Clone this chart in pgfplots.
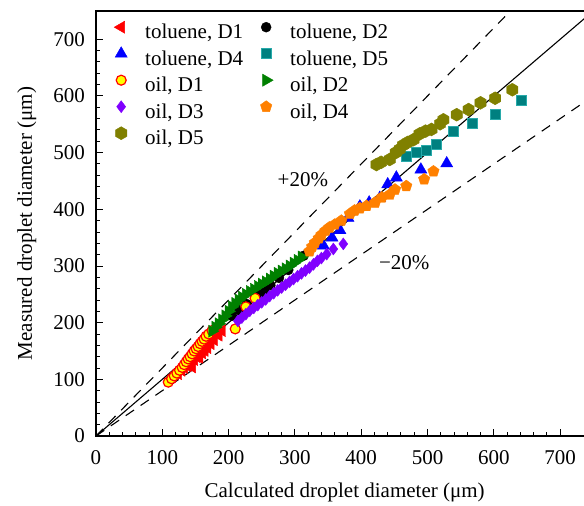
\documentclass[border=0pt]{standalone}
\usepackage{fontspec}
\setmainfont{Liberation Serif}
\usepackage{pgfplots}
\pgfplotsset{compat=1.18}

% filled six-sided mark
\pgfdeclareplotmark{hexagon*}{%
  \pgfpathmoveto{\pgfqpointpolar{90}{\pgfplotmarksize}}%
  \pgfpathlineto{\pgfqpointpolar{150}{\pgfplotmarksize}}%
  \pgfpathlineto{\pgfqpointpolar{210}{\pgfplotmarksize}}%
  \pgfpathlineto{\pgfqpointpolar{270}{\pgfplotmarksize}}%
  \pgfpathlineto{\pgfqpointpolar{330}{\pgfplotmarksize}}%
  \pgfpathlineto{\pgfqpointpolar{30}{\pgfplotmarksize}}%
  \pgfpathclose
  \pgfusepathqfillstroke}

\definecolor{cred}{RGB}{255,0,0}
\definecolor{cblue}{RGB}{0,0,255}
\definecolor{cteal}{RGB}{0,128,128}
\definecolor{ctealedge}{RGB}{40,170,170}
\definecolor{cyellow}{RGB}{255,255,0}
\definecolor{cgreen}{RGB}{0,128,0}
\definecolor{cviolet}{RGB}{128,0,255}
\definecolor{corange}{RGB}{255,128,0}
\definecolor{colive}{RGB}{128,128,0}

\begin{document}
\fontsize{21bp}{25bp}\selectfont
\begin{tikzpicture}
\begin{axis}[
  scale only axis,
  width=497.25bp, height=425bp,
  xmin=0, xmax=750, ymin=0, ymax=750,
  xtick={0,100,...,700}, ytick={0,100,...,700},
  minor tick num=4,
  tick align=inside, tick pos=left,
  major tick length=7bp, minor tick length=4bp,
  every tick/.style={black, line width=1bp},
  axis line style={line width=1.3bp},
  /pgf/number format/assume math mode=true,
  xticklabel style={yshift=-7bp},
  yticklabel style={xshift=-4bp},
  xlabel={Calculated droplet diameter (μm)},
  ylabel={Measured droplet diameter (μm)},
  every axis x label/.style={at={(axis description cs:0.5,-0.132)}, anchor=center},
  every axis y label/.style={at={(axis description cs:-0.139,0.5)}, anchor=center, rotate=90},
  legend columns=2,
  legend cell align=left,
  legend style={at={(axis description cs:0,1)}, anchor=north west,
    xshift=13bp, yshift=-9bp, draw=none, fill=none, inner sep=0pt,
    row sep=0pt, nodes={inner sep=3bp, text height=14bp, text depth=5bp}},
  /tikz/every even column/.append style={column sep=8bp},
  every axis plot/.append style={only marks,
    legend image code/.code={%
      \path[draw=none, fill=none, use as bounding box] (0bp,-5bp) rectangle (33bp,14bp);
      \draw[mark repeat=2, mark phase=2, ##1]
      plot coordinates {(0bp,7bp) (12bp,7bp) (33bp,7bp)};}},
]

% toluene
\addplot[mark=triangle*, mark size=7bp, color=cred, mark options={rotate=90}] coordinates {
 (124,110) (129,116) (133,121) (138,124) (142,130) (145,122) (148,135) (152,140)
 (156,139) (160,147) (164,151) (168,156) (173,163) (178,170) (185,178) (190,186)};
\addlegendentry{toluene, D1}

\addplot[mark=*, mark size=5bp, color=black] coordinates {
 (205,212) (216,222) (227,233) (240,246) (248,252) (254,258) (263,266) (276,279)
 (290,293) (313,318)};
\addlegendentry{toluene, D2}

\addplot[mark=triangle*, mark size=7bp, color=cblue] coordinates {
 (343,336) (356,350) (368,363) (380,385) (398,405) (412,412) (428,420) (440,444)
 (453,456) (490,470) (529,481)};
\addlegendentry{toluene, D4}

\addplot[mark=square*, mark size=5bp, draw=ctealedge, fill=cteal, mark options={line width=0.8bp}] coordinates {
 (468,494) (483,500) (498,504) (513,514) (539,538) (567,552) (602,567) (641,593)};
\addlegendentry{toluene, D5}

% oil
\addplot[mark=*, mark size=5bp, draw=cred, fill=cyellow, mark options={line width=1.2bp}] coordinates {
 (109,95) (114,101) (118,106) (122,111) (126,116) (130,121) (133,126) (136,131)
 (139,136) (142,140) (145,145) (148,150) (151,154) (154,158) (157,163) (160,167)
 (163,171) (166,176) (170,180) (175,186) (210,189) (226,228) (240,243)};
\addlegendentry{oil, D1}

\addplot[mark=triangle*, mark size=7bp, color=cgreen, mark options={rotate=-90}] coordinates {
 (175,185) (180,192) (185,198) (190,205) (195,212) (200,220) (205,228) (210,234)
 (215,240) (220,245) (226,250) (232,255) (238,259) (244,264) (250,268) (256,272)
 (262,277) (268,282) (274,287) (280,291) (286,295) (292,300) (298,305) (304,310)
 (310,316)};
\addlegendentry{oil, D2}

\addplot[mark=diamond*, mark size=6bp, color=cviolet] coordinates {
 (214,203) (220,209) (226,215) (232,221) (238,226) (244,231) (250,236) (256,241)
 (262,247) (268,252) (274,257) (280,262) (286,267) (292,272) (298,277) (304,282)
 (310,287) (316,292) (322,297) (328,303) (334,309) (340,314) (348,321) (358,330)
 (373,339)};
\addlegendentry{oil, D3}

\addplot[mark=pentagon*, mark size=6bp, color=corange] coordinates {
 (322,326) (326,334) (330,341) (336,349) (340,355) (346,362) (352,368) (360,373)
 (370,380) (383,392) (390,398) (398,402) (408,406) (421,412) (431,421) (443,426)
 (451,435) (468,441) (495,453) (509,467)};
\addlegendentry{oil, D4}

\addplot[mark=hexagon*, mark size=6.5bp, color=colive] coordinates {
 (423,479) (430,483) (443,488) (452,500) (458,506) (463,513) (470,518) (479,523)
 (488,533) (497,538) (506,541) (519,551) (524,558) (544,567) (562,576) (580,588)
 (602,596) (628,611)};
\addlegendentry{oil, D5}

% parity line and the +/-20 % band
\addplot[forget plot, sharp plot, no markers, black, line width=1.1bp] coordinates {(0,0) (750,750)};
\addplot[forget plot, sharp plot, no markers, black, line width=1.1bp, dash pattern=on 10bp off 8bp] coordinates {(0,0) (625,750)};
\addplot[forget plot, sharp plot, no markers, black, line width=1.1bp, dash pattern=on 10bp off 8bp] coordinates {(0,0) (750,600)};

\node at (axis cs:312,453) {+20\%};
\node at (axis cs:465,306) {−20\%};
\end{axis}
\pgfresetboundingbox
\path (current axis.south west) ++(-96bp,-70bp) rectangle ++(584bp,506bp);
\end{tikzpicture}
\end{document}
